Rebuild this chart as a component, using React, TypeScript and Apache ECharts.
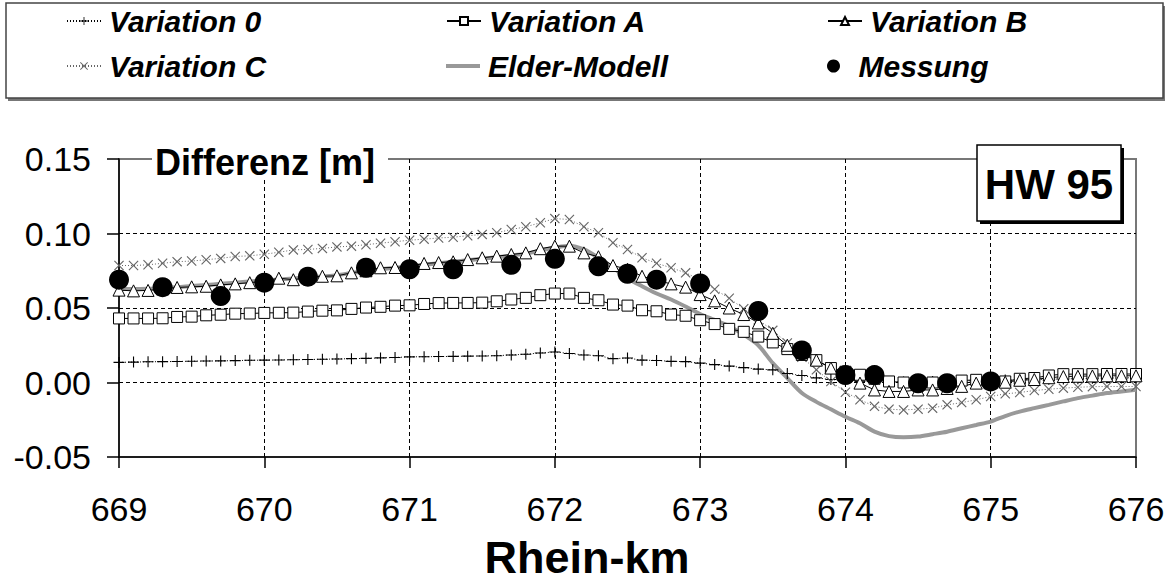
import React, { useEffect, useRef } from 'react';
import * as echarts from 'echarts';

// River kilometre positions of the model results (every 0.1 km)
const KM = [
  669.0, 669.1, 669.2, 669.3, 669.4, 669.5, 669.6, 669.7, 669.8, 669.9,
  670.0, 670.1, 670.2, 670.3, 670.4, 670.5, 670.6, 670.7, 670.8, 670.9,
  671.0, 671.1, 671.2, 671.3, 671.4, 671.5, 671.6, 671.7, 671.8, 671.9,
  672.0, 672.1, 672.2, 672.3, 672.4, 672.5, 672.6, 672.7, 672.8, 672.9,
  673.0, 673.1, 673.2, 673.3, 673.4, 673.5, 673.6, 673.7, 673.8, 673.9,
  674.0, 674.1, 674.2, 674.3, 674.4, 674.5, 674.6, 674.7, 674.8, 674.9,
  675.0, 675.1, 675.2, 675.3, 675.4, 675.5, 675.6, 675.7, 675.8, 675.9,
  676.0,
];

const VARIATION_0 = [
  0.0135, 0.0137, 0.0139, 0.0140, 0.0141, 0.0143, 0.0144, 0.0145, 0.0147, 0.0149,
  0.0150, 0.0151, 0.0153, 0.0154, 0.0156, 0.0158, 0.0160, 0.0162, 0.0165, 0.0168,
  0.0172, 0.0173, 0.0174, 0.0175, 0.0177, 0.0178, 0.0180, 0.0185, 0.0190, 0.0198,
  0.0205, 0.0195, 0.0185, 0.0180, 0.0160, 0.0164, 0.0150, 0.0148, 0.0142, 0.0140,
  0.0130, 0.0120, 0.0110, 0.0100, 0.0090, 0.0085, 0.0060, 0.0047, 0.0031, 0.0020,
  0.0012, 0.0008, 0.0005, 0.0004, 0.0004, 0.0005, 0.0006, 0.0008, 0.0010, 0.0012,
  0.0014, 0.0016, 0.0018, 0.0020, 0.0022, 0.0024, 0.0026, 0.0028, 0.0030, 0.0031,
  0.0032,
];

const VARIATION_A = [
  0.0430, 0.0430, 0.0430, 0.0431, 0.0440, 0.0442, 0.0451, 0.0455, 0.0462, 0.0463,
  0.0467, 0.0468, 0.0469, 0.0476, 0.0482, 0.0484, 0.0494, 0.0503, 0.0508, 0.0516,
  0.0518, 0.0527, 0.0533, 0.0534, 0.0534, 0.0536, 0.0545, 0.0557, 0.0568, 0.0586,
  0.0597, 0.0597, 0.0568, 0.0552, 0.0523, 0.0516, 0.0485, 0.0478, 0.0456, 0.0448,
  0.0418, 0.0392, 0.0360, 0.0340, 0.0308, 0.0269, 0.0224, 0.0185, 0.0150, 0.0097,
  0.0072, 0.0052, 0.0025, 0.0007, 0.0000, 0.0000, 0.0000, 0.0005, 0.0013, 0.0018,
  0.0010, 0.0007, 0.0025, 0.0030, 0.0047, 0.0056, 0.0056, 0.0056, 0.0057, 0.0057,
  0.0057,
];

const VARIATION_B = [
  0.0620, 0.0615, 0.0618, 0.0628, 0.0638, 0.0642, 0.0646, 0.0655, 0.0662, 0.0670,
  0.0680, 0.0700, 0.0690, 0.0705, 0.0713, 0.0716, 0.0736, 0.0750, 0.0770, 0.0772,
  0.0780, 0.0799, 0.0805, 0.0810, 0.0825, 0.0837, 0.0848, 0.0859, 0.0870, 0.0898,
  0.0915, 0.0915, 0.0870, 0.0844, 0.0785, 0.0760, 0.0713, 0.0685, 0.0662, 0.0640,
  0.0590, 0.0548, 0.0500, 0.0456, 0.0400, 0.0330, 0.0250, 0.0200, 0.0150, 0.0097,
  0.0040, -0.0004, -0.0050, -0.0060, -0.0060, -0.0050, -0.0050, -0.0040, -0.0026, -0.0004,
  0.0000, 0.0002, 0.0015, 0.0020, 0.0032, 0.0040, 0.0042, 0.0044, 0.0045, 0.0045,
  0.0045,
];

const VARIATION_C = [
  0.0785, 0.0785, 0.0790, 0.0800, 0.0811, 0.0815, 0.0824, 0.0833, 0.0846, 0.0850,
  0.0861, 0.0874, 0.0890, 0.0893, 0.0900, 0.0910, 0.0915, 0.0925, 0.0935, 0.0945,
  0.0955, 0.0962, 0.0970, 0.0975, 0.0985, 0.0994, 0.1005, 0.1027, 0.1045, 0.1072,
  0.1100, 0.1094, 0.1045, 0.1005, 0.0938, 0.0893, 0.0837, 0.0800, 0.0770, 0.0736,
  0.0690, 0.0626, 0.0565, 0.0495, 0.0420, 0.0350, 0.0265, 0.0170, 0.0085, 0.0007,
  -0.0065, -0.0116, -0.0160, -0.0179, -0.0184, -0.0179, -0.0172, -0.0150, -0.0135, -0.0116,
  -0.0094, -0.0076, -0.0067, -0.0054, -0.0045, -0.0038, -0.0032, -0.0028, -0.0027, -0.0027,
  -0.0027,
];

const ELDER_MODELL = [
  0.0630, 0.0628, 0.0630, 0.0635, 0.0640, 0.0648, 0.0655, 0.0662, 0.0670, 0.0678,
  0.0685, 0.0692, 0.0698, 0.0705, 0.0712, 0.0720, 0.0735, 0.0748, 0.0760, 0.0770,
  0.0780, 0.0790, 0.0800, 0.0810, 0.0820, 0.0830, 0.0840, 0.0852, 0.0865, 0.0885,
  0.0905, 0.0918, 0.0893, 0.0837, 0.0770, 0.0700, 0.0646, 0.0597, 0.0557, 0.0510,
  0.0460, 0.0420, 0.0377, 0.0320, 0.0250, 0.0130, 0.0030, -0.0070, -0.0130, -0.0180,
  -0.0230, -0.0273, -0.0330, -0.0360, -0.0368, -0.0363, -0.0347, -0.0330, -0.0307, -0.0285,
  -0.0262, -0.0225, -0.0195, -0.0172, -0.0150, -0.0127, -0.0105, -0.0088, -0.0071, -0.0060,
  -0.0049,
];

// Measurements
const MESSUNG_KM = [
  669.0, 669.3, 669.7, 670.0, 670.3, 670.7, 671.0, 671.3, 671.7, 672.0,
  672.3, 672.5, 672.7, 673.0, 673.4, 673.7, 674.0, 674.2, 674.5, 674.7, 675.0,
];
const MESSUNG = [
  0.069, 0.064, 0.058, 0.067, 0.071, 0.077, 0.076, 0.076, 0.079, 0.083,
  0.078, 0.073, 0.069, 0.0665, 0.048, 0.0215, 0.005, 0.005, -0.0005, -0.0005, 0.0007,
];

const Y_TICKS = { min: -0.05, max: 0.15, interval: 0.05 };
const X_TICKS = { min: 669, max: 676, interval: 1 };

const FONT = 'Arial, "Liberation Sans", Helvetica, sans-serif';
const PLUS = 'path://M4.5,0H5.5V4.5H10V5.5H5.5V10H4.5V5.5H0V4.5H4.5Z';
const CROSS = 'path://M0,0.8L0.8,0L5,4.2L9.2,0L10,0.8L5.8,5L10,9.2L9.2,10L5,5.8L0.8,10L0,9.2L4.2,5Z';

const pairs = (xs: number[], ys: number[]) => xs.map((x, i) => [x, ys[i]]);

export default function App() {
  const ref = useRef<HTMLDivElement>(null);

  useEffect(() => {
    const chart = echarts.init(ref.current!, null, { renderer: 'svg' });

    const legendBase: any = {
      orient: 'horizontal',
      padding: 0,
      itemWidth: 34,
      itemHeight: 10,
      itemGap: 0,
      selectedMode: false,
      z: 5,
      textStyle: {
        fontSize: 30,
        fontWeight: 'bold',
        fontStyle: 'italic',
        fontFamily: FONT,
        color: '#000',
        padding: [0, 0, 0, 3],
      },
    };

    const option: any = {
      animation: false,
      backgroundColor: '#fff',
      textStyle: { fontFamily: FONT },
      grid: {
        left: 119,
        right: 38,
        top: 159,
        bottom: 126,
        show: true,
        borderColor: '#777',
        borderWidth: 2,
        backgroundColor: 'transparent',
      },
      legend: [
        { ...legendBase, data: ['Variation 0'], left: 66, top: 6 },
        { ...legendBase, data: ['Variation A'], left: 446, top: 6 },
        { ...legendBase, data: ['Variation B'], left: 827, top: 6 },
        { ...legendBase, data: ['Variation C'], left: 66, top: 51 },
        {
          ...legendBase,
          data: [{ name: 'Elder-Modell', icon: 'rect' }],
          itemHeight: 4,
          left: 446,
          top: 51,
        },
        { ...legendBase, data: ['Messung'], left: 827, top: 51, itemHeight: 13 },
      ],
      xAxis: {
        type: 'value',
        min: X_TICKS.min,
        max: X_TICKS.max,
        interval: X_TICKS.interval,
        axisLine: { show: true, onZero: false, lineStyle: { color: '#000', width: 1.5 } },
        axisTick: { show: true, length: 11, lineStyle: { color: '#000', width: 1.5 } },
        axisLabel: { fontSize: 34, color: '#000', fontFamily: FONT, margin: 35 },
        splitLine: {
          show: true,
          showMinLine: false,
          showMaxLine: false,
          lineStyle: { color: '#000', width: 1, type: [4, 3] },
        },
      },
      yAxis: {
        type: 'value',
        min: Y_TICKS.min,
        max: Y_TICKS.max,
        interval: Y_TICKS.interval,
        axisLine: { show: true, onZero: false, lineStyle: { color: '#000', width: 1.5 } },
        axisTick: { show: true, length: 12, lineStyle: { color: '#000', width: 1.5 } },
        axisLabel: {
          fontSize: 34,
          color: '#000',
          fontFamily: FONT,
          margin: 28,
          formatter: (v: number) => (Math.abs(v) < 1e-9 ? '0.00' : v.toFixed(2)),
        },
        splitLine: {
          show: true,
          showMinLine: false,
          showMaxLine: false,
          lineStyle: { color: '#000', width: 1, type: [4, 3] },
        },
      },
      series: [
        {
          name: 'Elder-Modell',
          type: 'line',
          data: pairs(KM, ELDER_MODELL),
          symbol: 'none',
          smooth: 0.3,
          lineStyle: { color: '#999', width: 4 },
          itemStyle: { color: '#999' },
          z: 2,
        },
        {
          name: 'Variation 0',
          type: 'line',
          data: pairs(KM, VARIATION_0),
          symbol: PLUS,
          symbolSize: 11,
          lineStyle: { color: '#000', width: 1, type: [1, 2] },
          itemStyle: { color: '#000' },
          z: 3,
        },
        {
          name: 'Variation C',
          type: 'line',
          data: pairs(KM, VARIATION_C),
          symbol: CROSS,
          symbolSize: 10,
          lineStyle: { color: '#666', width: 1, type: [1, 2] },
          itemStyle: { color: '#666' },
          z: 3,
        },
        {
          name: 'Variation A',
          type: 'line',
          data: pairs(KM, VARIATION_A),
          symbol: 'rect',
          symbolSize: 11,
          lineStyle: { color: '#000', width: 1 },
          itemStyle: { color: '#fff', borderColor: '#000', borderWidth: 1 },
          z: 4,
        },
        {
          name: 'Variation B',
          type: 'line',
          data: pairs(KM, VARIATION_B),
          symbol: 'triangle',
          symbolSize: 12,
          lineStyle: { color: '#000', width: 1 },
          itemStyle: { color: '#fff', borderColor: '#000', borderWidth: 1 },
          z: 4,
        },
        {
          name: 'Messung',
          type: 'scatter',
          data: pairs(MESSUNG_KM, MESSUNG),
          symbol: 'circle',
          symbolSize: 20,
          itemStyle: { color: '#000', opacity: 1 },
          z: 5,
        },
      ],
      graphic: [
        // legend frame
        {
          type: 'rect',
          z: 0,
          shape: { x: 8, y: 6, width: 1157, height: 95 },
          style: { fill: '#777' },
        },
        {
          type: 'rect',
          z: 1,
          shape: { x: 6, y: 3, width: 1157, height: 95 },
          style: { fill: '#fff', stroke: '#444', lineWidth: 1.5 },
        },
        // y axis title over the top frame line
        {
          type: 'rect',
          z: 20,
          shape: { x: 152, y: 146, width: 236, height: 32 },
          style: { fill: '#fff' },
        },
        {
          type: 'text',
          z: 21,
          x: 155,
          y: 162,
          style: {
            text: 'Differenz [m]',
            font: 'bold 36px ' + FONT,
            fill: '#000',
            textVerticalAlign: 'middle',
            verticalAlign: 'middle',
          },
        },
        // HW 95 box
        {
          type: 'rect',
          z: 20,
          shape: { x: 980, y: 148, width: 144, height: 76 },
          style: { fill: '#000' },
        },
        {
          type: 'rect',
          z: 21,
          shape: { x: 977, y: 145, width: 144, height: 76 },
          style: { fill: '#fff', stroke: '#000', lineWidth: 1.5 },
        },
        {
          type: 'text',
          z: 22,
          x: 1049,
          y: 184,
          style: {
            text: 'HW 95',
            font: 'bold 42px ' + FONT,
            fill: '#000',
            align: 'center',
            textAlign: 'center',
            verticalAlign: 'middle',
            textVerticalAlign: 'middle',
          },
        },
        // x axis title
        {
          type: 'text',
          z: 20,
          x: 587,
          y: 557,
          style: {
            text: 'Rhein-km',
            font: 'bold 45px ' + FONT,
            fill: '#000',
            align: 'center',
            textAlign: 'center',
            verticalAlign: 'middle',
            textVerticalAlign: 'middle',
          },
        },
      ],
    };

    chart.setOption(option);
    return () => chart.dispose();
  }, []);

  return (
    <div
      ref={ref}
      style={{ position: 'fixed', left: 0, top: 0, width: 1174, height: 583, background: '#fff' }}
    />
  );
}
